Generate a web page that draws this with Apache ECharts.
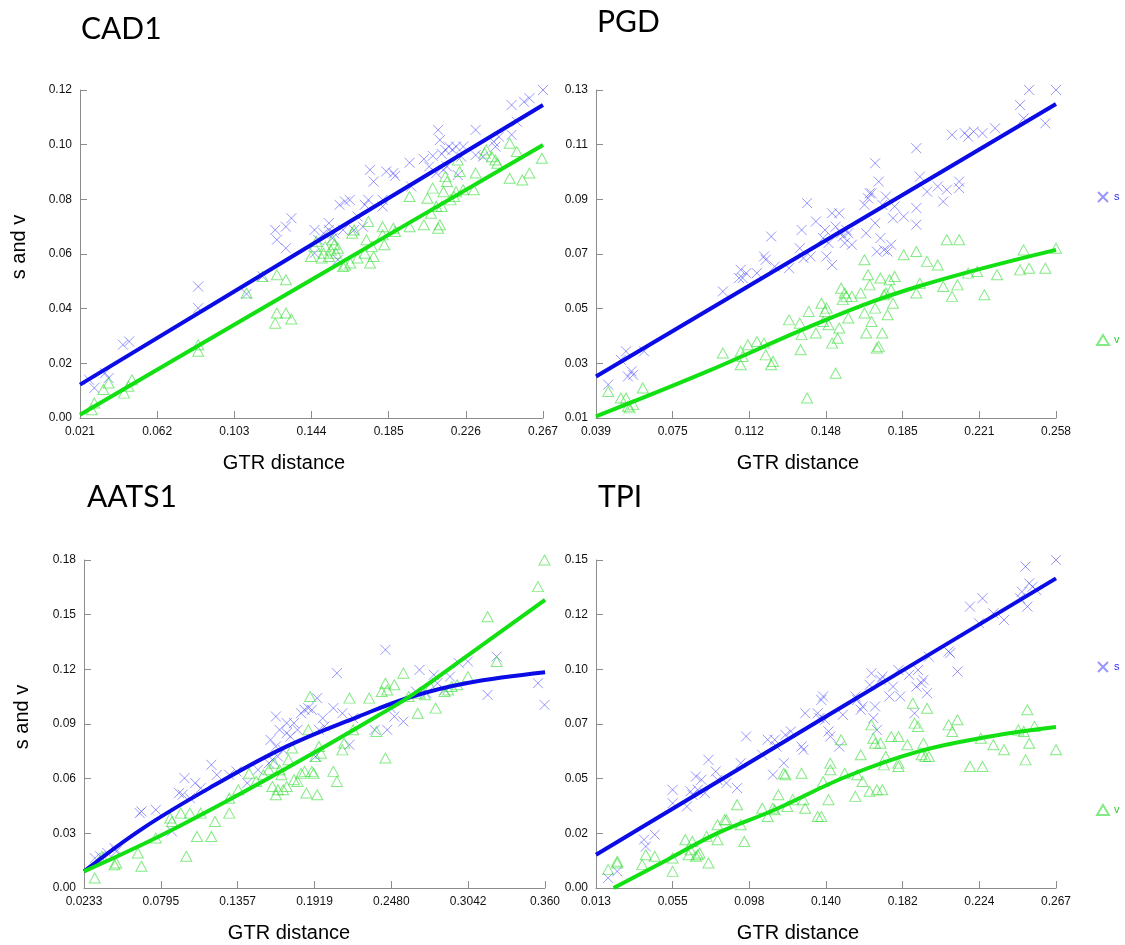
<!DOCTYPE html>
<html>
<head>
<meta charset="utf-8">
<script src="https://cdn.jsdelivr.net/npm/echarts@6/dist/echarts.min.js"></script>
<style>
  html, body { margin: 0; padding: 0; background: #fff; }
  #main { width: 1125px; height: 945px; }
</style>
</head>
<body>
<div id="main"></div>
<script>
// ---- data ----
var cadS = [[0.0258,0.0140],[0.0286,0.0110],[0.0343,0.0164],[0.0362,0.0146],[0.0438,0.0268],[0.0471,0.0280],
  [0.0838,0.0481],[0.0838,0.0402],[0.1095,0.0454],[0.1180,0.0518],[0.1247,0.0688],[0.1256,0.0652],[0.1304,0.0621],
  [0.1304,0.0700],[0.1333,0.0731],[0.1456,0.0688],[0.1475,0.0652],[0.1456,0.0603],[0.1504,0.0676],[0.1532,0.0688],
  [0.1551,0.0658],[0.1561,0.0676],[0.1580,0.0579],[0.1589,0.0780],[0.1618,0.0792],[0.1643,0.0798],[0.1666,0.0688],
  [0.1685,0.0737],[0.1723,0.0780],[0.1742,0.0798],[0.1751,0.0908],[0.1770,0.0865],[0.1818,0.0774],[0.1818,0.0798],
  [0.1837,0.0902],[0.1875,0.0896],[0.1884,0.0886],[0.1961,0.0934],[0.1970,0.0847],[0.2037,0.0947],[0.2065,0.0920],
  [0.2084,0.0959],[0.2113,0.1054],[0.2122,0.1017],[0.2132,0.0966],[0.2151,0.0981],[0.2170,0.0993],[0.2189,0.0981],
  [0.2208,0.0993],[0.2217,0.0889],[0.2246,0.0993],[0.2312,0.1054],[0.2312,0.0962],[0.2351,0.0956],[0.2408,0.1011],
  [0.2417,0.0993],[0.2436,0.1029],[0.2503,0.1145],[0.2503,0.1036],[0.2531,0.1084],[0.2569,0.1157],[0.2598,0.1170],
  [0.2670,0.1200],[0.2141,0.0908],[0.2103,0.0896],[0.2160,0.0920],[0.1608,0.0688],[0.1532,0.0713],[0.1713,0.0700],
  [0.2236,0.0956]];
var cadV = [[0.0273,0.0030],[0.0286,0.0055],[0.0334,0.0104],[0.0362,0.0128],[0.0444,0.0091],[0.0467,0.0116],
  [0.0486,0.0140],[0.0838,0.0268],[0.0838,0.0244],[0.1095,0.0457],[0.1180,0.0518],[0.1256,0.0524],[0.1247,0.0347],
  [0.1256,0.0384],[0.1304,0.0384],[0.1333,0.0362],[0.1304,0.0506],[0.1437,0.0591],[0.1456,0.0627],[0.1466,0.0646],
  [0.1494,0.0585],[0.1504,0.0603],[0.1513,0.0627],[0.1532,0.0591],[0.1542,0.0615],[0.1551,0.0652],[0.1561,0.0634],
  [0.1570,0.0603],[0.1580,0.0621],[0.1608,0.0554],[0.1618,0.0560],[0.1646,0.0567],[0.1656,0.0676],[0.1666,0.0688],
  [0.1685,0.0585],[0.1723,0.0603],[0.1732,0.0652],[0.1742,0.0719],[0.1751,0.0567],[0.1770,0.0591],[0.1761,0.0627],
  [0.1818,0.0670],[0.1818,0.0700],[0.1827,0.0634],[0.1875,0.0694],[0.1884,0.0682],[0.1961,0.0810],[0.1961,0.0700],
  [0.2037,0.0707],[0.2056,0.0804],[0.2075,0.0749],[0.2084,0.0841],[0.2103,0.0774],[0.2113,0.0694],[0.2122,0.0707],
  [0.2132,0.0774],[0.2141,0.0828],[0.2151,0.0883],[0.2160,0.0865],[0.2179,0.0798],[0.2198,0.0810],[0.2208,0.0828],
  [0.2217,0.0944],[0.2227,0.0902],[0.2246,0.0835],[0.2303,0.0835],[0.2312,0.0896],[0.2360,0.0969],[0.2369,0.0981],
  [0.2398,0.0956],[0.2417,0.0944],[0.2427,0.0932],[0.2493,0.1005],[0.2493,0.0877],[0.2531,0.0975],[0.2560,0.0871],
  [0.2598,0.0896],[0.2664,0.0950]];
var cadSFit = [[0.021,0.0122],[0.144,0.0634],[0.267,0.1145]];
var cadVFit = [[0.021,0.0012],[0.144,0.0506],[0.267,0.0999]];

var pgdS = [[0.0448,0.0222],[0.0508,0.0313],[0.0533,0.0344],[0.0542,0.0252],[0.0559,0.0271],[0.0567,0.0258],
  [0.0619,0.0344],[0.0994,0.0563],[0.1071,0.0612],[0.1079,0.0642],[0.1088,0.0612],[0.1105,0.0630],[0.1156,0.0630],
  [0.1190,0.0691],[0.1198,0.0679],[0.1224,0.0764],[0.1241,0.0654],[0.1309,0.0648],[0.1360,0.0721],[0.1369,0.0788],
  [0.1378,0.0685],[0.1395,0.0886],[0.1412,0.0691],[0.1437,0.0819],[0.1471,0.0758],[0.1480,0.0788],[0.1488,0.0691],
  [0.1497,0.0740],[0.1514,0.0849],[0.1514,0.0660],[0.1531,0.0800],[0.1548,0.0849],[0.1557,0.0776],[0.1565,0.0764],
  [0.1574,0.0740],[0.1582,0.0788],[0.1591,0.0776],[0.1608,0.0734],[0.1668,0.0880],[0.1676,0.0776],[0.1685,0.0904],
  [0.1693,0.0922],[0.1702,0.0922],[0.1719,0.1032],[0.1719,0.0813],[0.1727,0.0709],[0.1736,0.0965],[0.1744,0.0758],
  [0.1753,0.0880],[0.1761,0.0715],[0.1770,0.0910],[0.1778,0.0709],[0.1795,0.0734],[0.1804,0.0831],[0.1812,0.0874],
  [0.1855,0.0837],[0.1915,0.1087],[0.1915,0.0868],[0.1915,0.0807],[0.1932,0.0983],[0.1966,0.0928],[0.2017,0.0947],
  [0.2043,0.0892],[0.2060,0.0935],[0.2085,0.1136],[0.2119,0.0965],[0.2119,0.0941],[0.2145,0.1142],[0.2162,0.1129],
  [0.2188,0.1148],[0.2230,0.1142],[0.2290,0.1160],[0.2409,0.1245],[0.2426,0.1196],[0.2452,0.1300],[0.2529,0.1178],
  [0.2580,0.1300]];
var pgdV = [[0.0448,0.0197],[0.0508,0.0173],[0.0533,0.0173],[0.0542,0.0143],[0.0550,0.0137],[0.0567,0.0149],
  [0.0613,0.0210],[0.0994,0.0338],[0.1079,0.0344],[0.1079,0.0295],[0.1088,0.0325],[0.1113,0.0368],[0.1156,0.0380],
  [0.1190,0.0374],[0.1198,0.0331],[0.1224,0.0295],[0.1233,0.0307],[0.1309,0.0459],[0.1360,0.0447],[0.1364,0.0350],
  [0.1369,0.0405],[0.1395,0.0173],[0.1403,0.0490],[0.1437,0.0411],[0.1463,0.0520],[0.1471,0.0453],[0.1480,0.0490],
  [0.1488,0.0502],[0.1497,0.0441],[0.1514,0.0374],[0.1531,0.0264],[0.1540,0.0392],[0.1548,0.0429],[0.1557,0.0575],
  [0.1565,0.0533],[0.1574,0.0557],[0.1582,0.0545],[0.1591,0.0466],[0.1608,0.0545],[0.1650,0.0557],[0.1668,0.0679],
  [0.1668,0.0484],[0.1676,0.0411],[0.1685,0.0624],[0.1693,0.0587],[0.1702,0.0453],[0.1719,0.0502],[0.1727,0.0356],
  [0.1736,0.0362],[0.1744,0.0612],[0.1753,0.0411],[0.1761,0.0551],[0.1770,0.0557],[0.1778,0.0478],[0.1787,0.0606],
  [0.1795,0.0569],[0.1804,0.0520],[0.1812,0.0618],[0.1855,0.0697],[0.1915,0.0709],[0.1915,0.0557],[0.1932,0.0593],
  [0.1966,0.0673],[0.2017,0.0660],[0.2043,0.0581],[0.2060,0.0752],[0.2085,0.0545],[0.2111,0.0587],[0.2119,0.0752],
  [0.2162,0.0630],[0.2205,0.0636],[0.2239,0.0551],[0.2299,0.0624],[0.2409,0.0642],[0.2426,0.0715],[0.2452,0.0648],
  [0.2529,0.0648],[0.2580,0.0721]];
var pgdSFit = [[0.039,0.0252],[0.1485,0.0750],[0.258,0.1249]];
var pgdVFit = [[0.039,0.0106],[0.090,0.0264],[0.1485,0.0459],[0.1923,0.0581],[0.258,0.0715]];

var aatsS = [[0.0312,0.0164],[0.0351,0.0174],[0.0404,0.0192],[0.0457,0.0219],[0.0469,0.0201],[0.0640,0.0411],
  [0.0653,0.0420],[0.0758,0.0429],[0.0876,0.0311],[0.0928,0.0521],[0.0954,0.0512],[0.0968,0.0603],[0.1007,0.0493],
  [0.1046,0.0576],[0.1086,0.0548],[0.1164,0.0676],[0.1204,0.0621],[0.1295,0.0621],[0.1348,0.0640],[0.1427,0.0576],
  [0.1505,0.0649],[0.1597,0.0813],[0.1610,0.0704],[0.1636,0.0941],[0.1650,0.0722],[0.1663,0.0868],[0.1689,0.0758],
  [0.1715,0.0850],[0.1741,0.0831],[0.1768,0.0905],[0.1794,0.0868],[0.1820,0.0959],[0.1846,0.0978],[0.1873,0.0987],
  [0.1899,0.0978],[0.1925,0.0722],[0.1938,0.1042],[0.1951,0.0868],[0.1978,0.0932],[0.1991,0.0886],[0.2056,0.0987],
  [0.2082,0.1179],[0.2122,0.0959],[0.2174,0.0786],[0.2201,0.0932],[0.2358,0.0868],[0.2437,0.1307],[0.2450,0.0868],
  [0.2476,0.0987],[0.2502,0.0941],[0.2568,0.0914],[0.2660,0.1078],[0.2686,0.1197],[0.2791,0.1170],[0.2817,0.1124],
  [0.2909,0.1160],[0.2974,0.1234],[0.3040,0.1243],[0.3184,0.1060],[0.3250,0.1270],[0.3552,0.1124],[0.3600,0.1005],
  [0.2869,0.1087],[0.2738,0.1069],[0.1584,0.0685],[0.1636,0.0777],[0.1715,0.0905]];
var aatsV = [[0.0312,0.0055],[0.0364,0.0174],[0.0456,0.0128],[0.0469,0.0137],[0.0627,0.0192],[0.0653,0.0119],
  [0.0758,0.0274],[0.0863,0.0384],[0.0876,0.0365],[0.0941,0.0411],[0.0981,0.0174],[0.1007,0.0411],[0.1059,0.0283],
  [0.1086,0.0411],[0.1164,0.0283],[0.1191,0.0365],[0.1295,0.0411],[0.1295,0.0493],[0.1361,0.0539],[0.1440,0.0630],
  [0.1492,0.0585],[0.1545,0.0621],[0.1584,0.0649],[0.1610,0.0557],[0.1623,0.0685],[0.1636,0.0512],[0.1650,0.0539],
  [0.1663,0.0649],[0.1676,0.0621],[0.1689,0.0539],[0.1715,0.0557],[0.1728,0.0704],[0.1755,0.0768],[0.1768,0.0594],
  [0.1794,0.0585],[0.1820,0.0630],[0.1846,0.0640],[0.1859,0.0521],[0.1873,0.0868],[0.1886,0.1051],[0.1899,0.0640],
  [0.1912,0.0630],[0.1925,0.0722],[0.1938,0.0512],[0.1951,0.0777],[0.1965,0.0740],[0.2056,0.0640],[0.2082,0.0585],
  [0.2122,0.0758],[0.2135,0.0795],[0.2174,0.1042],[0.2201,0.0868],[0.2318,0.1042],[0.2371,0.0859],[0.2410,0.1078],
  [0.2437,0.1124],[0.2437,0.0713],[0.2450,0.1087],[0.2502,0.1115],[0.2568,0.1179],[0.2607,0.1051],[0.2673,0.0959],
  [0.2686,0.1069],[0.2725,0.1060],[0.2804,0.0987],[0.2869,0.1078],[0.2896,0.1087],[0.2961,0.1115],[0.3040,0.1160],
  [0.3184,0.1489],[0.3250,0.1243],[0.3552,0.1654],[0.3600,0.1800],[0.2765,0.1106],[0.2922,0.1106]];
var aatsSFit = [[0.0233,0.0091],[0.0666,0.0329],[0.1191,0.0566],[0.1715,0.0777],[0.2240,0.0941],
  [0.2633,0.1051],[0.3027,0.1124],[0.3604,0.1184]];
var aatsVFit = [[0.0233,0.0091],[0.0758,0.0274],[0.1295,0.0484],[0.1846,0.0713],[0.2371,0.0941],
  [0.2633,0.1060],[0.3027,0.1270],[0.3604,0.1581]];

var tpiS = [[0.0197,0.0046],[0.0247,0.0076],[0.0395,0.0221],[0.0405,0.0190],[0.0454,0.0244],[0.0553,0.0449],
  [0.0553,0.0388],[0.0632,0.0373],[0.0652,0.0442],[0.0662,0.0426],[0.0682,0.0510],[0.0692,0.0449],[0.0712,0.0495],
  [0.0731,0.0434],[0.0751,0.0586],[0.0791,0.0533],[0.0801,0.0495],[0.0850,0.0480],[0.0909,0.0457],[0.0929,0.0571],
  [0.0959,0.0693],[0.1048,0.0609],[0.1078,0.0678],[0.1107,0.0518],[0.1117,0.0678],[0.1127,0.0647],[0.1167,0.0571],
  [0.1176,0.0700],[0.1206,0.0716],[0.1265,0.0647],[0.1275,0.0632],[0.1285,0.0799],[0.1354,0.0799],[0.1364,0.0777],
  [0.1374,0.0860],[0.1384,0.0876],[0.1394,0.0769],[0.1414,0.0716],[0.1424,0.0693],[0.1473,0.0647],[0.1493,0.0792],
  [0.1562,0.0876],[0.1572,0.0860],[0.1592,0.0815],[0.1602,0.0830],[0.1641,0.0929],[0.1651,0.0982],[0.1661,0.0777],
  [0.1671,0.0830],[0.1681,0.0723],[0.1701,0.0952],[0.1711,0.0967],[0.1750,0.0876],[0.1770,0.0921],[0.1800,0.0997],
  [0.1810,0.0876],[0.1859,0.0975],[0.1889,0.0799],[0.1899,0.0921],[0.1908,0.0997],[0.1928,0.0937],[0.1938,0.0952],
  [0.1958,0.0891],[0.1968,0.1058],[0.2077,0.1081],[0.2086,0.1074],[0.2126,0.0990],[0.2195,0.1287],[0.2245,0.1211],
  [0.2264,0.1325],[0.2324,0.1256],[0.2383,0.1226],[0.2472,0.1325],[0.2482,0.1355],[0.2502,0.1470],[0.2512,0.1287],
  [0.2522,0.1393],[0.2541,0.1378],[0.2561,0.1363],[0.2670,0.1500]];
var tpiV = [[0.0197,0.0084],[0.0247,0.0114],[0.0247,0.0122],[0.0385,0.0107],[0.0405,0.0152],[0.0454,0.0145],
  [0.0553,0.0137],[0.0553,0.0076],[0.0623,0.0221],[0.0642,0.0152],[0.0652,0.0175],[0.0662,0.0213],[0.0682,0.0145],
  [0.0692,0.0152],[0.0702,0.0160],[0.0741,0.0236],[0.0751,0.0114],[0.0801,0.0289],[0.0801,0.0221],[0.0840,0.0312],
  [0.0850,0.0312],[0.0909,0.0381],[0.0929,0.0289],[0.0949,0.0213],[0.1048,0.0365],[0.1078,0.0327],[0.1107,0.0365],
  [0.1117,0.0358],[0.1137,0.0426],[0.1167,0.0525],[0.1176,0.0518],[0.1186,0.0373],[0.1216,0.0404],[0.1265,0.0525],
  [0.1275,0.0404],[0.1285,0.0365],[0.1354,0.0327],[0.1374,0.0327],[0.1384,0.0487],[0.1414,0.0404],[0.1424,0.0571],
  [0.1424,0.0541],[0.1483,0.0678],[0.1503,0.0525],[0.1562,0.0419],[0.1572,0.0518],[0.1592,0.0609],[0.1602,0.0487],
  [0.1641,0.0442],[0.1651,0.0746],[0.1661,0.0685],[0.1671,0.0662],[0.1681,0.0449],[0.1701,0.0662],[0.1711,0.0449],
  [0.1720,0.0563],[0.1730,0.0601],[0.1760,0.0693],[0.1800,0.0693],[0.1800,0.0571],[0.1800,0.0556],[0.1849,0.0655],
  [0.1879,0.0845],[0.1889,0.0754],[0.1908,0.0739],[0.1928,0.0609],[0.1938,0.0662],[0.1948,0.0601],[0.1958,0.0822],
  [0.1968,0.0601],[0.2077,0.0746],[0.2097,0.0716],[0.2126,0.0769],[0.2195,0.0556],[0.2255,0.0685],[0.2264,0.0556],
  [0.2324,0.0655],[0.2383,0.0632],[0.2462,0.0723],[0.2492,0.0716],[0.2502,0.0586],[0.2512,0.0815],[0.2522,0.0662],
  [0.2551,0.0739],[0.2670,0.0632]];
var tpiSFit = [[0.013,0.0152],[0.140,0.0784],[0.267,0.1416]];
var tpiVFit = [[0.0227,0.0000],[0.0524,0.0129],[0.0801,0.0251],[0.1117,0.0358],[0.1513,0.0510],
  [0.1908,0.0624],[0.2304,0.0693],[0.2670,0.0736]];

// ---- axis ticks / labels ----
var cadXTicks = [0.021, 0.062, 0.103, 0.144, 0.185, 0.226, 0.267];
var cadXLabels = ['0.021', '0.062', '0.103', '0.144', '0.185', '0.226', '0.267'];
var cadYTicks = [0, 0.02, 0.04, 0.06, 0.08, 0.10, 0.12];
var cadYLabels = ['0.00', '0.02', '0.04', '0.06', '0.08', '0.10', '0.12'];

var pgdXTicks = [0.039, 0.0755, 0.112, 0.1485, 0.185, 0.2215, 0.258];
var pgdXLabels = ['0.039', '0.075', '0.112', '0.148', '0.185', '0.221', '0.258'];
var pgdYTicks = [0.01, 0.03, 0.05, 0.07, 0.09, 0.11, 0.13];
var pgdYLabels = ['0.01', '0.03', '0.05', '0.07', '0.09', '0.11', '0.13'];

var aatsXTicks = [0.0233, 0.079475, 0.13565, 0.191825, 0.248, 0.304175, 0.36035];
var aatsXLabels = ['0.0233', '0.0795', '0.1357', '0.1919', '0.2480', '0.3042', '0.360'];
var aatsYTicks = [0, 0.03, 0.06, 0.09, 0.12, 0.15, 0.18];
var aatsYLabels = ['0.00', '0.03', '0.06', '0.09', '0.12', '0.15', '0.18'];

var tpiXTicks = [0.013, 0.055333, 0.097667, 0.140, 0.182333, 0.224667, 0.267];
var tpiXLabels = ['0.013', '0.055', '0.098', '0.140', '0.182', '0.224', '0.267'];
var tpiYTicks = [0, 0.025, 0.05, 0.075, 0.10, 0.125, 0.15];
var tpiYLabels = ['0.00', '0.02', '0.05', '0.07', '0.10', '0.12', '0.15'];

var panelTitles = ['CAD1', 'PGD', 'AATS1', 'TPI'];

// ---- styling ----
var BLUE = '#0b0be6', GREEN = '#12e012';
var CROSS_C = 'rgba(70,70,255,0.7)', TRI_C = 'rgba(50,220,50,0.75)';
var crossPath = 'path://M0,0L10,10M10,0L0,10';
var AXIS_C = '#8c8c8c';
var FONT = 'Liberation Sans, Arial, sans-serif';

var grids = [
    { left: 80, top: 90, width: 463, height: 328 },
    { left: 596, top: 90, width: 460, height: 328 },
    { left: 84, top: 560, width: 461, height: 328 },
    { left: 596, top: 560, width: 460, height: 328 }
];

function labelFor(ticks, labels) {
    return function (v) {
        for (var i = 0; i < ticks.length; i++) {
            if (Math.abs(ticks[i] - v) < 1e-6) return labels[i];
        }
        return '';
    }
}

function xAxisOf(i, ticks, labels) {
    return {
        type: 'value', gridIndex: i,
        min: ticks[0], max: ticks[ticks.length - 1],
        splitLine: { show: false },
        axisLine: { show: true, onZero: false, lineStyle: { color: AXIS_C, width: 1 } },
        axisTick: { show: true, inside: true, length: 7, customValues: ticks, lineStyle: { color: AXIS_C } },
        axisLabel: { customValues: ticks, formatter: labelFor(ticks, labels), color: '#111', fontSize: 12,
            fontFamily: FONT, margin: 8, hideOverlap: false }
    }
}

function yAxisOf(i, ticks, labels) {
    return {
        type: 'value', gridIndex: i,
        min: ticks[0], max: ticks[ticks.length - 1],
        splitLine: { show: false },
        axisLine: { show: true, onZero: false, lineStyle: { color: AXIS_C, width: 1 } },
        axisTick: { show: true, inside: true, length: 7, customValues: ticks, lineStyle: { color: AXIS_C } },
        axisLabel: { customValues: ticks, formatter: labelFor(ticks, labels), color: '#111', fontSize: 12,
            fontFamily: FONT, margin: 8 }
    }
}

function panelSeries(i, sPts, vPts, sFit, vFit) {
    return [
        { name: 's', type: 'scatter', xAxisIndex: i, yAxisIndex: i, data: sPts,
          symbol: crossPath, symbolSize: 10,
          itemStyle: { color: 'rgba(0,0,0,0)', borderColor: CROSS_C, borderWidth: 1 }, z: 2 },
        { name: 'v', type: 'scatter', xAxisIndex: i, yAxisIndex: i, data: vPts,
          symbol: 'triangle', symbolSize: [11, 10],
          itemStyle: { color: 'rgba(0,0,0,0)', borderColor: TRI_C, borderWidth: 1 }, z: 2 },
        { name: 's fit', type: 'line', xAxisIndex: i, yAxisIndex: i, data: sFit, smooth: 0.4,
          showSymbol: false, lineStyle: { color: BLUE, width: 4 }, z: 4, silent: true },
        { name: 'v fit', type: 'line', xAxisIndex: i, yAxisIndex: i, data: vFit, smooth: 0.4,
          showSymbol: false, lineStyle: { color: GREEN, width: 4 }, z: 4, silent: true }
    ]
}

function legendAt(top) {
    return {
        orient: 'vertical', left: 1091, top: top, itemGap: 131, itemWidth: 12, itemHeight: 10,
        textStyle: { fontSize: 11, fontFamily: FONT },
        data: [
            { name: 's', icon: crossPath, textStyle: { color: '#2a2af0' } },
            { name: 'v', icon: 'triangle', textStyle: { color: '#2ec82e' } }
        ],
        selectedMode: false
    }
}

function txt(x, y, text, size, opts) {
    var o = {
        type: 'text', x: x, y: y,
        style: { text: text, font: size + 'px ' + (opts && opts.family || FONT), fill: '#000',
                 textAlign: opts && opts.align || 'left', textVerticalAlign: 'middle' }
    };
    if (opts && opts.rotate) o.rotation = opts.rotate;
    return o;
}

var myChart = echarts.init(document.getElementById('main'), null, { renderer: 'canvas' });
myChart.setOption({
    backgroundColor: '#fff',
    animation: false,
    grid: grids,
    xAxis: [
        xAxisOf(0, cadXTicks, cadXLabels),
        xAxisOf(1, pgdXTicks, pgdXLabels),
        xAxisOf(2, aatsXTicks, aatsXLabels),
        xAxisOf(3, tpiXTicks, tpiXLabels)
    ],
    yAxis: [
        yAxisOf(0, cadYTicks, cadYLabels),
        yAxisOf(1, pgdYTicks, pgdYLabels),
        yAxisOf(2, aatsYTicks, aatsYLabels),
        yAxisOf(3, tpiYTicks, tpiYLabels)
    ],
    legend: [legendAt(186), legendAt(656)],
    series: [].concat(
        panelSeries(0, cadS, cadV, cadSFit, cadVFit),
        panelSeries(1, pgdS, pgdV, pgdSFit, pgdVFit),
        panelSeries(2, aatsS, aatsV, aatsSFit, aatsVFit),
        panelSeries(3, tpiS, tpiV, tpiSFit, tpiVFit)
    ),
    graphic: [
        // panel titles
        txt(81, 29, panelTitles[0], 30, { family: 'Lato, sans-serif' }),
        txt(597, 22, panelTitles[1], 30, { family: 'Lato, sans-serif' }),
        txt(87, 497, panelTitles[2], 30, { family: 'Lato, sans-serif' }),
        txt(598, 497, panelTitles[3], 30, { family: 'Lato, sans-serif' }),
        // axis names
        txt(284, 463, 'GTR distance', 20, { align: 'center' }),
        txt(798, 463, 'GTR distance', 20, { align: 'center' }),
        txt(289, 933, 'GTR distance', 20, { align: 'center' }),
        txt(798, 933, 'GTR distance', 20, { align: 'center' }),
        txt(19, 247, 's and v', 20, { align: 'center', rotate: Math.PI / 2 }),
        txt(22, 717, 's and v', 20, { align: 'center', rotate: Math.PI / 2 })
    ]
});
</script>
</body>
</html>
